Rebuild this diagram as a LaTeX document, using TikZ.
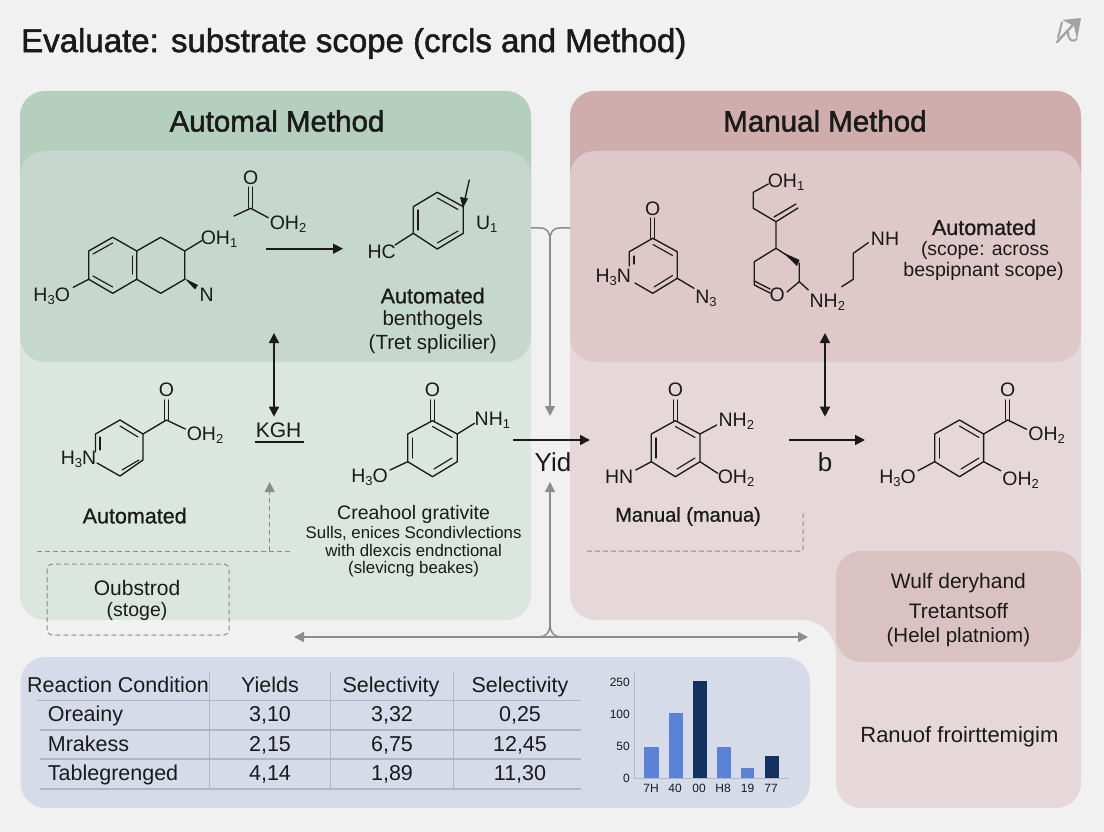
\documentclass[tikz,border=0pt]{standalone}
\usepackage{fontspec}
\setmainfont{Liberation Sans}
\newfontfamily\medfont[FakeBold=0.8]{Liberation Sans}
\newfontfamily\headfont[FakeBold=1.6]{Liberation Sans}
\usetikzlibrary{arrows.meta}
\definecolor{bgc}{HTML}{F1F1F1}
\definecolor{gHead}{HTML}{B5CFBF}
\definecolor{gIn}{HTML}{C6D7CF}
\definecolor{gLow}{HTML}{DAE6DF}
\definecolor{rHead}{HTML}{CFADAD}
\definecolor{rIn}{HTML}{DFC8CA}
\definecolor{rLow}{HTML}{E6D8DA}
\definecolor{rCard}{HTML}{DAC2C3}
\definecolor{tbl}{HTML}{D5DBE9}
\definecolor{tline}{HTML}{B0B6C4}
\definecolor{gconn}{HTML}{8C8C8C}
\definecolor{barA}{HTML}{5B82D6}
\definecolor{barB}{HTML}{14305F}
\definecolor{ink}{HTML}{1A1A1A}
\newcommand{\sbs}[1]{\raisebox{-3pt}{\fontsize{13}{13}\selectfont #1}}
\newcommand{\fsz}[1]{\fontsize{#1}{#1}\selectfont}
\tikzset{
  lab/.style={inner sep=0pt,text=ink,font=\fsz{19}},
  mlab/.style={inner sep=0pt,text=ink,font=\fsz{19.5}},
  tcell/.style={inner sep=0pt,text=ink,font=\fsz{21.5},text height=15.5pt,text depth=4.5pt},
  tlbl/.style={tcell,anchor=west},
  note/.style={inner sep=0pt,text=ink,font=\fsz{16.8},align=center},
  bd/.style={draw=ink,line width=1.35pt,line cap=round,line join=round},
  dbl/.style={draw=ink,line width=1.15pt,line cap=round},
  bk/.style={draw=ink,line width=1.6pt,-{Triangle[length=10pt,width=10pt]}},
  bkk/.style={draw=ink,line width=1.6pt,{Triangle[length=10pt,width=10pt]}-{Triangle[length=10pt,width=10pt]}},
  gy/.style={draw=gconn,line width=1.5pt,-{Triangle[length=10pt,width=10pt]}},
  gyy/.style={draw=gconn,line width=1.5pt,{Triangle[length=10pt,width=10pt]}-{Triangle[length=10pt,width=10pt]}},
  gl/.style={draw=gconn,line width=1.5pt},
  dsh/.style={draw=gconn,line width=1pt,dash pattern=on 5pt off 3pt},
  tl/.style={draw=tline,line width=1pt},
  tick/.style={inner sep=0pt,text=ink,font=\fsz{12}}
}
\begin{document}
\begin{tikzpicture}[x=1pt,y=-1pt]
\useasboundingbox (0,0) rectangle (1104,832);
\fill[bgc] (0,0) rectangle (1104,832);
% title
\node[inner sep=0pt,anchor=west,text=ink,font=\headfont\fsz{33}] (title) at (21,43.5) {Evaluate: substrate scope (crcls and Method)};
% corner icon
\fill[gconn!80] (1062,20) -- (1081,18) -- (1077,40) -- (1074,26) -- cycle;
\draw[gconn!80,line width=2.4pt,line cap=round] (1057,42) -- (1073,25);
\draw[gconn!80,line width=2pt] (1058,38) -- (1062,22);
\draw[gconn!80,line width=2pt] (1068,32) .. controls (1068,42) and (1074,42) .. (1077,39);
% green panel
\fill[gLow,rounded corners=25pt] (20,91) rectangle (531,620);
\begin{scope}
\clip (20,91) rectangle (531,200);
\fill[gHead,rounded corners=25pt] (20,91) rectangle (531,300);
\end{scope}
\fill[gIn,rounded corners=25pt] (20,151) rectangle (531,362);
% red panel
\fill[rLow,rounded corners=25pt] (570,91) -- (1081,91) -- (1081,808) -- (836,808) [rounded corners=34pt] -- (836,620) [rounded corners=25pt] -- (570,620) -- cycle;
\begin{scope}
\clip (570,91) rectangle (1081,200);
\fill[rHead,rounded corners=25pt] (570,91) rectangle (1081,300);
\end{scope}
\fill[rIn,rounded corners=25pt] (570,151) rectangle (1081,362);
\fill[rCard,rounded corners=25pt] (836,551) rectangle (1081,662);
\node[inner sep=0pt,text=ink,font=\headfont\fsz{29.5}] (h1) at (277,121) {Automal Method};
\node[inner sep=0pt,text=ink,font=\headfont\fsz{29.5}] (h2) at (825,121) {Manual Method};
% ---- gray connectors
\coordinate (ga) at (531,228); \coordinate (gb) at (570,228);
\coordinate (gt) at (550,416); \coordinate (gu) at (550,482);
\coordinate (gl1) at (294,637); \coordinate (gl2) at (808,637);
\draw[gl] (ga) -- (540,228) .. controls (547,228) and (550,232) .. (550,240);
\draw[gl] (gb) -- (560,228) .. controls (553,228) and (550,232) .. (550,240);
\draw[gy] (550,240) -- (gt);
\draw[gyy] (gl1) -- (gl2);
\draw[gl] (539,637) .. controls (546,637) and (550,632) .. (550,625);
\draw[gl] (561,637) .. controls (554,637) and (550,632) .. (550,625);
\draw[gy] (550,625) -- (gu);
% ---- molecule 1
\draw[bd] (112.7,237.3) -- (136.7,251) -- (136.7,279.3) -- (112.7,293.3) -- (88.7,279.3) -- (88.7,251) -- cycle;
\draw[bd] (136.7,251) -- (160.7,237.3) -- (184.7,251) -- (184.7,279.3) -- (160.7,293.3) -- (136.7,279.3);
\draw[dbl] (93,254) -- (112.7,243); \draw[dbl] (132.7,256) -- (132.7,274); \draw[dbl] (93,276) -- (112.7,287);
\draw[bd] (184.7,251) -- (201.7,240.7);
\draw[bd] (88.7,279.3) -- (73.3,287.3);
\fill[ink] (184.7,278.5) -- (198,285) -- (195,289.5) -- cycle;
\node[mlab] (m1a) at (219,239) {OH\sbs{1}};
\node[mlab] (m1b) at (206.7,295) {N};
\node[mlab] (m1c) at (51.7,296) {H\sbs{3}O};
\node[mlab] (m1d) at (250.7,177.3) {O};
\draw[dbl] (248.7,187) -- (248.7,208); \draw[dbl] (252.7,187) -- (252.7,208);
\draw[bd] (234,216) -- (250.7,208.3) -- (268.3,217.7);
\node[mlab] (m1e) at (288,224) {OH\sbs{2}};
\coordinate (a1s) at (266,248.7); \coordinate (a1e) at (343,248.7);
\draw[bk] (a1s) -- (a1e);
\draw[bd] (437.3,192.3) -- (463.3,206.7) -- (463.3,233.3) -- (437.3,249) -- (413.3,233.3) -- (413.3,206.7) -- cycle;
\draw[dbl] (437.3,198) -- (458,209.5); \draw[dbl] (458,231) -- (437.3,243); \draw[dbl] (418,210) -- (418,230);
\draw[bd] (413.3,233.3) -- (395,245);
\draw[bd] (464,203) -- (469.3,180);
\fill[ink] (460,197) -- (468,198.5) -- (463,208) -- cycle;
\node[mlab] (m1f) at (381.7,251.7) {HC};
\node[mlab] (m1g) at (486.7,224) {U\sbs{1}};
\node[inner sep=0pt,text=ink,font=\medfont\fsz{21.5}] (t1a) at (432.7,295.7) {Automated};
\node[inner sep=0pt,text=ink,font=\fsz{20.5}] (t1b) at (432.7,320) {benthogels};
\node[inner sep=0pt,text=ink,font=\fsz{20.5}] (t1c) at (432.7,344) {(Tret splicilier)};
% ---- molecule pyridine acid
\draw[bd] (120,420) -- (143,434) -- (143,460) -- (120,476) -- (97,463);
\draw[bd] (95.5,452) -- (95.5,434) -- (120,420);
\draw[dbl] (120,426) -- (138,437); \draw[dbl] (139,460) -- (122,470); \draw[dbl] (100,437) -- (100,450);
\draw[bd] (143,434) -- (166.4,420) -- (185.3,429);
\draw[dbl] (164.4,400) -- (164.4,420); \draw[dbl] (168.4,400) -- (168.4,420);
\node[mlab] (m3a) at (166.4,390) {O};
\node[mlab] (m3b) at (205,435) {OH\sbs{2}};
\node[mlab] (m3c) at (78.5,459) {H\sbs{3}N};
\node[inner sep=0pt,text=ink,font=\medfont\fsz{21.5}] (t3) at (134.7,515.7) {Automated};
\node[inner sep=0pt,text=ink,font=\fsz{21}] (kgh) at (278.6,430) {KGH};
\draw[draw=ink,line width=1.8pt] (kgh.south west |- 0,441.7) ++(-1,0) -- ++(49,0);
\coordinate (d1t) at (274,333); \coordinate (d1b) at (274,416.7);
\draw[bkk] (d1t) -- (d1b);
\coordinate (dg1) at (37,551); \coordinate (dg2) at (291,551); \coordinate (dg3) at (269.7,482);
\draw[dsh] (dg1) -- (dg2);
\draw[dsh,-{Triangle[length=10pt,width=10pt]},gconn] (269.7,551) -- (dg3);
\draw[dsh,rounded corners=5pt] (47,564) rectangle (229,635);
\node[inner sep=0pt,text=ink,font=\fsz{21}] (o1) at (137,587.7) {Oubstrod};
\node[inner sep=0pt,text=ink,font=\fsz{19.5}] (o2) at (137,611.7) {(stoge)};
% ---- molecule 4
\draw[bd] (432.5,420.7) -- (457.3,434) -- (457.3,461.7) -- (432.5,476.7) -- (407.7,461.7) -- (407.7,434) -- cycle;
\draw[dbl] (432.5,426.5) -- (452,437.5); \draw[dbl] (452,458) -- (434,469); \draw[dbl] (412.5,438) -- (412.5,458);
\draw[dbl] (430.5,400) -- (430.5,420.7); \draw[dbl] (434.5,400) -- (434.5,420.7);
\draw[bd] (457.3,434) -- (474.5,423.3);
\draw[bd] (407.7,461.7) -- (390,470);
\node[mlab] (m4a) at (432.5,390) {O};
\node[mlab] (m4b) at (492.4,420) {NH\sbs{1}};
\node[mlab] (m4c) at (369.5,477.7) {H\sbs{3}O};
\node[inner sep=0pt,text=ink,font=\fsz{19.5}] (t4a) at (413.6,514) {Creahool grativite};
\node[note] (t4b) at (413.6,533.5) {Sulls, enices Scondivlections};
\node[note] (t4c) at (413.6,550.5) {with dlexcis endnctional};
\node[note] (t4d) at (413.6,569.5) {(slevicng beakes)};
% ---- centre
\coordinate (y1) at (513,440); \coordinate (y2) at (590,440);
\draw[bk] (y1) -- (y2);
\node[inner sep=0pt,text=ink,font=\fsz{26}] (yid) at (553,462) {Yid};
% ---- molecule 2
\draw[bd] (652.7,238.3) -- (677.3,251.7) -- (677.3,278.3) -- (652.7,293.3) -- (635,283);
\draw[bd] (629.3,266) -- (629.3,251.7) -- (652.7,238.3);
\draw[dbl] (653,244.5) -- (672.5,255.5); \draw[dbl] (672.5,275.5) -- (654,287); \draw[dbl] (634,256) -- (634,264);
\draw[dbl] (650.7,218) -- (650.7,238.3); \draw[dbl] (654.7,218) -- (654.7,238.3);
\draw[bd] (677.3,278.3) -- (694,288.3);
\node[mlab] (m2a) at (652.7,208.3) {O};
\node[mlab] (m2b) at (613.3,277.3) {H\sbs{3}N};
\node[mlab] (m2c) at (706,298) {N\sbs{3}};
% ---- molecule centre-right
\draw[bd] (768.3,184) -- (753.3,192.3) -- (753.3,208.3) -- (776,221.7) -- (776,248.3) -- (796.7,261.7);
\draw[bd] (776,221.7) -- (798,208); \draw[bd] (774,217) -- (796,204);
\draw[bd] (776,248.3) -- (754.3,261.7) -- (754.3,285) -- (770,293);
\draw[bd] (754.3,281) -- (770,289);
\draw[bd] (799.3,263) -- (799.3,281.7) -- (787,292);
\fill[ink] (783,252.5) -- (799.5,260) -- (797,266) -- cycle;
\draw[bd] (799.3,281.7) -- (808.3,290);
\draw[bd] (841.7,286.7) -- (853.3,279.3) -- (853.3,253.3) -- (868.3,242.7);
\node[mlab] (m6a) at (786,182.3) {OH\sbs{1}};
\node[mlab] (m6b) at (777.3,295) {O};
\node[mlab] (m6c) at (827.3,302.7) {NH\sbs{2}};
\node[mlab] (m6d) at (885,238.3) {NH};
\node[inner sep=0pt,text=ink,font=\medfont\fsz{21.5}] (t6a) at (984,227.3) {Automated};
\node[inner sep=0pt,text=ink,font=\fsz{19.4}] (t6b) at (985,250.5) {(scope: across};
\node[inner sep=0pt,text=ink,font=\fsz{19.6}] (t6c) at (983.5,271.5) {bespipnant scope)};
% ---- molecule 5
\draw[bd] (675.4,420.7) -- (700,434) -- (700,461.7) -- (675.4,476.7) -- (651.3,461.7) -- (651.3,434) -- cycle;
\draw[dbl] (675.4,426.5) -- (695,437.5); \draw[dbl] (695,458) -- (677,469); \draw[dbl] (656,438) -- (656,458);
\draw[dbl] (673.4,400) -- (673.4,420.7); \draw[dbl] (677.4,400) -- (677.4,420.7);
\draw[bd] (700,434) -- (716.7,425);
\draw[bd] (700,461.7) -- (717.7,473.3);
\draw[bd] (651.3,461.7) -- (635.8,470);
\node[mlab] (m5a) at (675.4,390) {O};
\node[mlab] (m5b) at (736.3,421) {NH\sbs{2}};
\node[mlab] (m5c) at (736,477.7) {OH\sbs{2}};
\node[mlab] (m5d) at (619.2,477) {HN};
\node[inner sep=0pt,text=ink,font=\medfont\fsz{20}] (t5) at (688,516.5) {Manual (manua)};
\coordinate (dr1) at (587,551); \coordinate (dr2) at (803,513);
\draw[dsh,rounded corners=2pt] (dr1) -- (803,551) -- (dr2);
\coordinate (b1) at (789,440); \coordinate (b2) at (865,440);
\draw[bk] (b1) -- (b2);
\node[inner sep=0pt,text=ink,font=\fsz{26}] (bb) at (825,462) {b};
\coordinate (d2t) at (825,333); \coordinate (d2b) at (825,416.7);
\draw[bkk] (d2t) -- (d2b);
% ---- molecule 6
\draw[bd] (959.5,420) -- (983.6,434) -- (983.6,461.7) -- (959.5,476.7) -- (934.7,461.7) -- (934.7,434) -- cycle;
\draw[dbl] (959.5,426) -- (979,437.5); \draw[dbl] (979,458) -- (961,469); \draw[dbl] (939.5,438) -- (939.5,458);
\draw[bd] (983.6,434) -- (1007.7,420) -- (1026.6,429.3);
\draw[dbl] (1005.7,400) -- (1005.7,420); \draw[dbl] (1009.7,400) -- (1009.7,420);
\draw[bd] (983.6,461.7) -- (1000.8,470.7);
\draw[bd] (934.7,461.7) -- (918,470.7);
\node[mlab] (m7a) at (1007.7,390) {O};
\node[mlab] (m7b) at (1046.6,435) {OH\sbs{2}};
\node[mlab] (m7c) at (1020.7,480) {OH\sbs{2}};
\node[mlab] (m7d) at (897.5,478) {H\sbs{3}O};
% ---- card
\node[inner sep=0pt,text=ink,font=\fsz{21}] (c1) at (958.4,583) {Wulf deryhand};
\node[inner sep=0pt,text=ink,font=\fsz{21}] (c2) at (958.4,611) {Tretantsoff};
\node[inner sep=0pt,text=ink,font=\fsz{20.5}] (c3) at (958.4,637.5) {(Helel platniom)};
\node[inner sep=0pt,text=ink,font=\fsz{22}] (c4) at (959.4,736.5) {Ranuof froirttemigim};
% ---- table panel
\fill[tbl,rounded corners=25pt] (20.5,657) rectangle (810,808);
\foreach \xx in {209.8,330,453.5} \draw[tl] (\xx,672) -- (\xx,788);
\draw[tl,line width=1.3pt] (37,700.7) -- (581,700.7);
\foreach \yy in {730,759,789} \draw[tl,line width=1.3pt] (40,\yy) -- (581,\yy);
\node[tcell] (th1) at (118,687) {Reaction Condition};
\node[tcell] (th2) at (270,687) {Yields};
\node[tcell] (th3) at (391,687) {Selectivity};
\node[tcell] (th4) at (520,687) {Selectivity};
\node[tlbl] (r1) at (47.7,716) {Oreainy};
\node[tlbl] (r2) at (47.7,745.7) {Mrakess};
\node[tlbl] (r3) at (47.7,775) {Tablegrenged};
\node[tcell] (c11) at (270,716) {3,10};
\node[tcell] (c12) at (392,716) {3,32};
\node[tcell] (c13) at (520,716) {0,25};
\node[tcell] (c21) at (270,745.7) {2,15};
\node[tcell] (c22) at (392,745.7) {6,75};
\node[tcell] (c23) at (520,745.7) {12,45};
\node[tcell] (c31) at (270,775) {4,14};
\node[tcell] (c32) at (392,775) {1,89};
\node[tcell] (c33) at (520,775) {11,30};
% ---- chart
\draw[tline,line width=.8pt] (634,672) -- (634,778) -- (789,778);
\fill[barA] (644.4,746.7) rectangle (658.5,778);
\fill[barA] (669,712.7) rectangle (682.6,778);
\fill[barB] (693,680.7) rectangle (706.7,778);
\fill[barA] (717,746.7) rectangle (730.7,778);
\fill[barA] (740.6,767.7) rectangle (754.2,778);
\fill[barB] (764.7,755.7) rectangle (778.8,778);
\node[tick,anchor=east] (y250) at (630,682) {250};
\node[tick,anchor=east] (y100) at (630,714) {100};
\node[tick,anchor=east] (y50) at (630,746) {50};
\node[tick,anchor=east] (y0) at (630,778) {0};
\node[tick] (x1) at (651,788) {7H};
\node[tick] (x2) at (675,788) {40};
\node[tick] (x3) at (699,788) {00};
\node[tick] (x4) at (723,788) {H8};
\node[tick] (x5) at (747.5,788) {19};
\node[tick] (x6) at (771,788) {77};
\end{tikzpicture}
\end{document}
